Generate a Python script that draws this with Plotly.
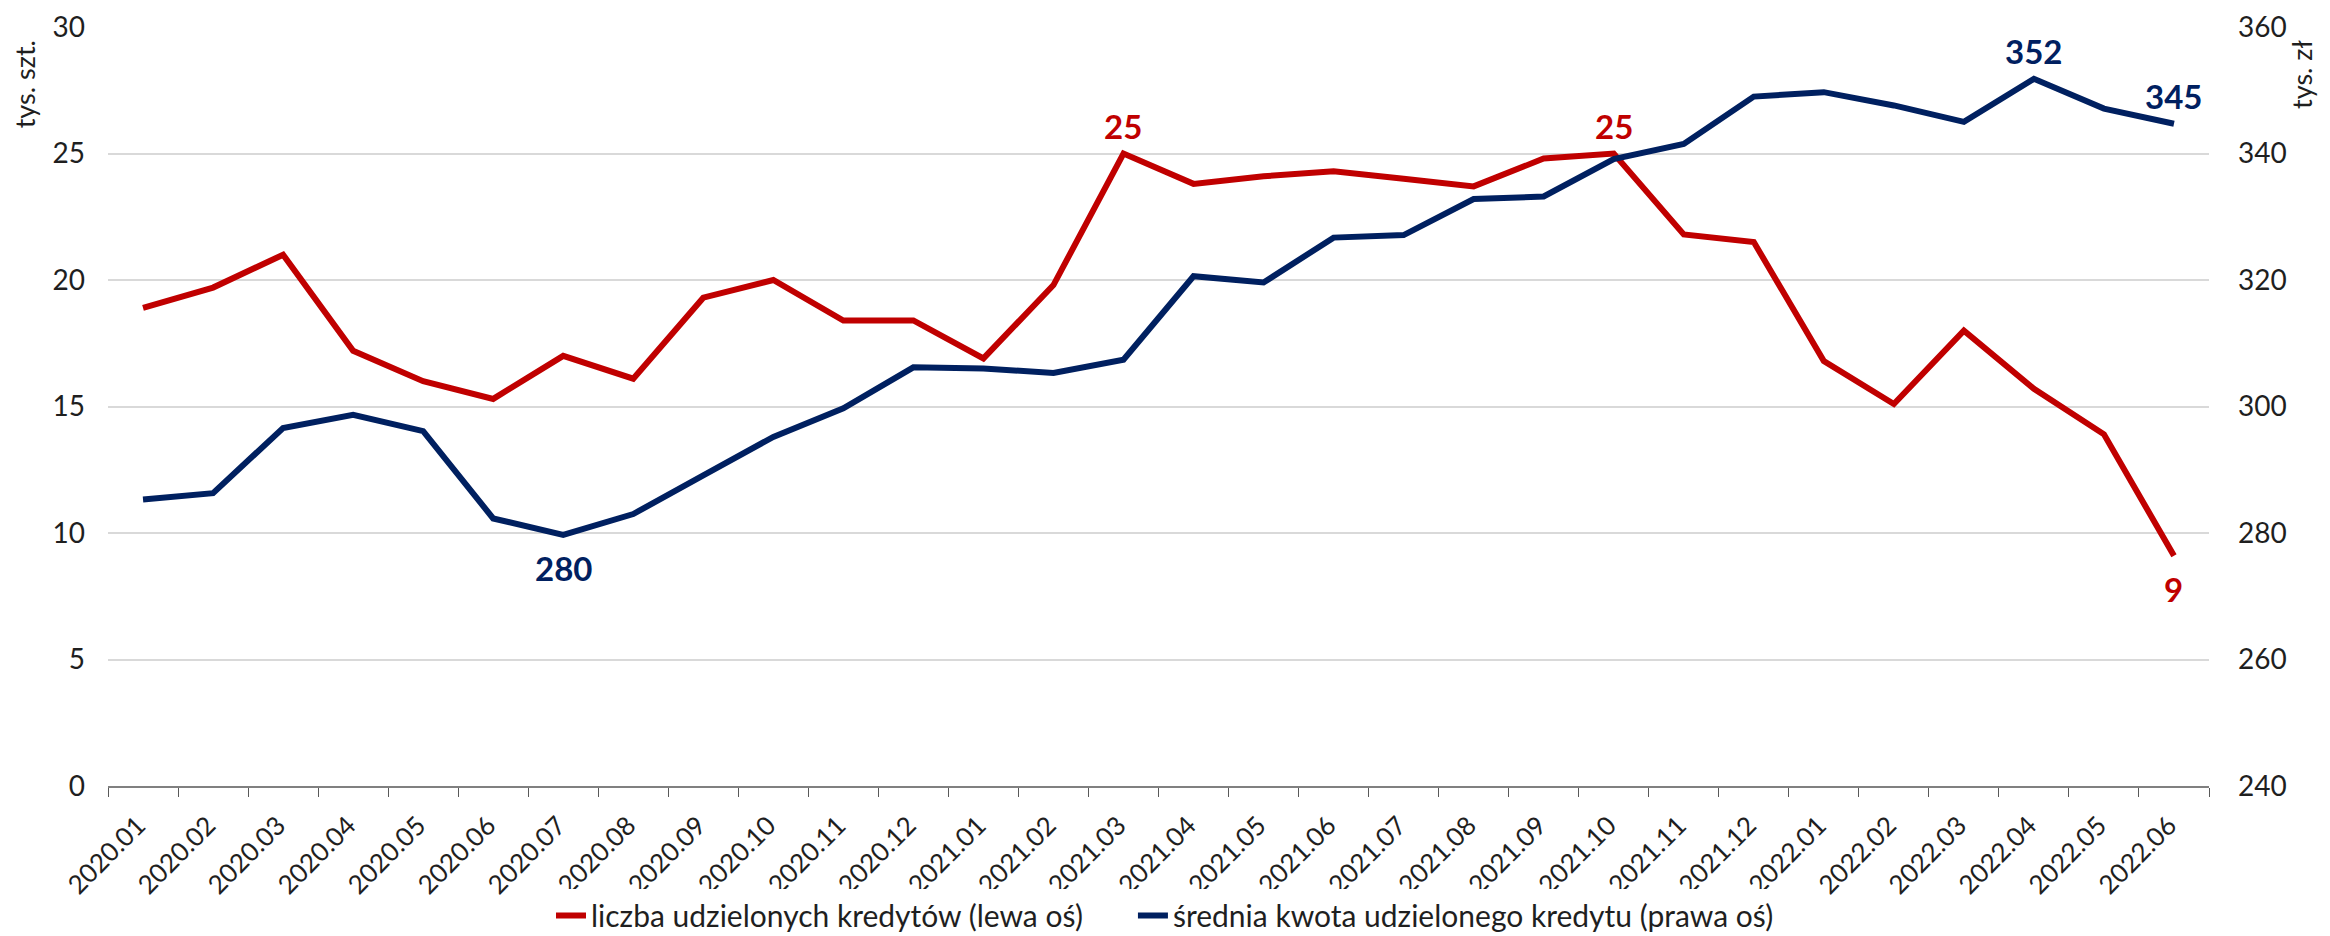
import plotly.graph_objects as go

# monthly data
months = ['2020.01', '2020.02', '2020.03', '2020.04', '2020.05', '2020.06', '2020.07', '2020.08',
          '2020.09', '2020.10', '2020.11', '2020.12', '2021.01', '2021.02', '2021.03', '2021.04',
          '2021.05', '2021.06', '2021.07', '2021.08', '2021.09', '2021.10', '2021.11', '2021.12',
          '2022.01', '2022.02', '2022.03', '2022.04', '2022.05', '2022.06']

# number of loans granted, thousands (left axis)
liczba = [18.9, 19.7, 21.0, 17.2, 16.0, 15.3, 17.0, 16.1, 19.3, 20.0, 18.4, 18.4, 16.9, 19.8, 25.0,
          23.8, 24.1, 24.3, 24.0, 23.7, 24.8, 25.0, 21.8, 21.5, 16.8, 15.1, 18.0, 15.7, 13.9, 9.1]

# average loan amount, thousand PLN (right axis)
kwota = [285.3, 286.3, 296.6, 298.7, 296.1, 282.3, 279.7, 283.0, 289.1, 295.2, 299.7, 306.2, 306.0,
         305.3, 307.4, 320.6, 319.6, 326.7, 327.1, 332.8, 333.2, 339.1, 341.5, 349.0, 349.7, 347.6,
         345.0, 351.8, 347.1, 344.7]

# labelled points: month -> above (1) / below (-1)
liczba_labels = {'2021.03': 1, '2021.10': 1, '2022.06': -1}
kwota_labels = {'2020.07': -1, '2022.04': 1, '2022.06': 1}

RED = '#C00000'
NAVY = '#002060'
FONT = 'Lato'
GAP = '\u2003\u2003'  # extra space between legend entries

fig = go.Figure()
fig.add_trace(go.Scatter(x=months, y=liczba, name='liczba udzielonych kredytów (lewa oś)' + GAP,
                         mode='lines', line=dict(color=RED, width=6)))
fig.add_trace(go.Scatter(x=months, y=kwota, name='średnia kwota udzielonego kredytu (prawa oś)',
                         mode='lines', yaxis='y2', line=dict(color=NAVY, width=6)))

# value labels (x given as category index)
for labels, values, yref, color in [(liczba_labels, liczba, 'y', RED), (kwota_labels, kwota, 'y2', NAVY)]:
    for m, side in labels.items():
        i = months.index(m)
        v = values[i]
        fig.add_annotation(x=i, y=v, xref='x', yref=yref, text=f'{v:.0f}', showarrow=False,
                           yshift=28 if side > 0 else -33,
                           font=dict(size=33, color=color, family=FONT, weight='bold'))

fig.update_layout(
    width=2330, height=936,
    margin=dict(l=108, r=121, t=27, b=150, autoexpand=False),
    plot_bgcolor='white', paper_bgcolor='white',
    font=dict(family=FONT, size=28, color='#1f1f1f'),
    xaxis=dict(type='category', range=[-0.5, len(months) - 0.5], tickangle=-45, ticks='outside',
               tickson='boundaries', ticklen=9, tickcolor='#595959', showline=True,
               linecolor='#808080', linewidth=2, showgrid=False, tickfont=dict(size=26),
               ticklabelshift=-5, ticklabelstandoff=12, automargin=False),
    yaxis=dict(range=[0, 30], dtick=5, showgrid=True, gridcolor='#D9D9D9', gridwidth=1.5,
               zeroline=False, ticklabelstandoff=22, automargin=False),
    yaxis2=dict(range=[240, 360], dtick=20, overlaying='y', side='right', showgrid=False,
                zeroline=False, ticklabelstandoff=28, automargin=False),
    legend=dict(orientation='h', x=0.5, xref='container', y=0.022, yref='container',
                xanchor='center', yanchor='middle', font=dict(size=30), itemwidth=30),
    showlegend=True,
)

fig.add_annotation(text='tys. szt.', xref='paper', yref='paper', x=-0.040, y=0.985,
                   xanchor='center', yanchor='top', textangle=-90, showarrow=False,
                   font=dict(size=27))
fig.add_annotation(text='tys. zł', xref='paper', yref='paper', x=1.0443, y=0.985,
                   xanchor='center', yanchor='top', textangle=-90, showarrow=False,
                   font=dict(size=27))

# drop the default page margin so the figure sits at the window's corner
fig.write_html('out.html', config={'displayModeBar': False},
               post_script="document.body.style.margin='0';")
